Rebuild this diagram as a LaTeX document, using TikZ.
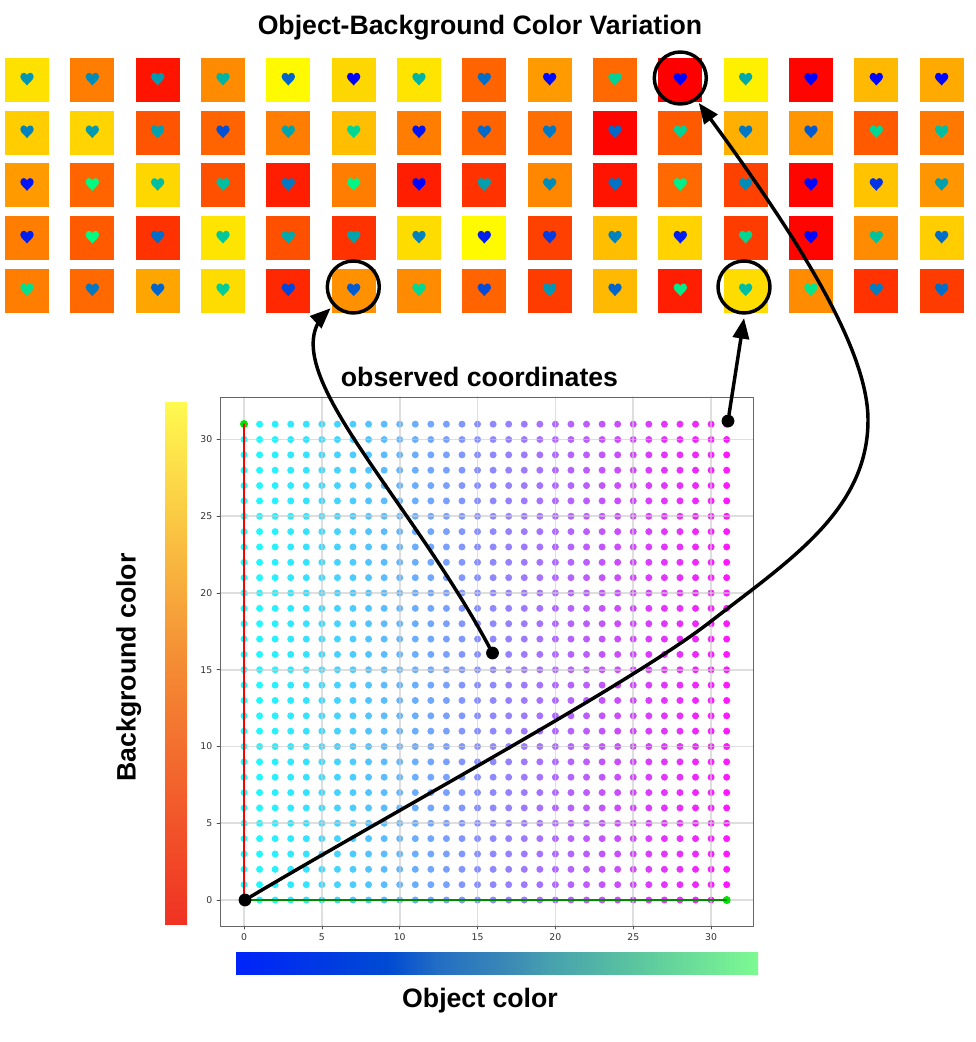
\documentclass[tikz,border=0pt]{standalone}
\usepackage{fontspec}
\setmainfont{Liberation Sans}
\newfontfamily\tickfont{DejaVu Sans}
\usetikzlibrary{arrows}
\pgfdeclarehorizontalshading{objramp}{100bp}{rgb(0bp)=(0,.137,.98);rgb(25bp)=(0,.137,.98);rgb(39.6bp)=(0,.294,.824);rgb(44.4bp)=(.137,.431,.765);rgb(51.6bp)=(.235,.549,.706);rgb(54.9bp)=(.275,.627,.686);rgb(62.8bp)=(.353,.765,.627);rgb(75bp)=(.49,.98,.57);rgb(100bp)=(.49,.98,.57)}
\pgfdeclareverticalshading{bgramp}{100bp}{rgb(0bp)=(.94,.196,.137);rgb(25bp)=(.94,.196,.137);rgb(50bp)=(.957,.549,.204);rgb(75bp)=(1,.98,.314);rgb(100bp)=(1,.98,.314)}
\tikzset{
  tile/.style={inner sep=0pt,minimum size=33pt},
  ring/.style={circle,draw=black,line width=2.6pt,inner sep=0pt,minimum size=39pt,outer sep=4pt},
  blob/.style={circle,fill=black,inner sep=0pt,minimum size=9.6pt},
  heart/.pic={\path[pic actions] (0,6.5) .. controls (-2,3.5) and (-6.7,1) .. (-6.7,-2.5)
    .. controls (-6.7,-5) and (-4.6,-6.2) .. (-3.3,-6.2) .. controls (-1.8,-6.2) and (-.6,-5.2) .. (0,-4)
    .. controls (.6,-5.2) and (1.8,-6.2) .. (3.3,-6.2) .. controls (4.6,-6.2) and (6.7,-5) .. (6.7,-2.5)
    .. controls (6.7,1) and (2,3.5) .. (0,6.5) -- cycle;},
  tick/.style={font=\tickfont\fontsize{7pt}{8pt}\selectfont,text=black!80,inner sep=0pt},
  head/.style={font=\bfseries\fontsize{20pt}{24pt}\selectfont,inner sep=0pt,anchor=base}
}
\begin{document}
\begin{tikzpicture}[line cap=round,line join=round,>=triangle 45,x=0.75pt,y=-0.75pt]
\useasboundingbox (0,0) rectangle (975,1042);
% tiles: background green / object green
\foreach \rowlist [count=\r from 0] in {
  {225/150,125/140,20/155,140/180,250/100,215/0,228/180,100/110,155/10,105/210,0/0,240/170,5/0,185/5,170/5},
  {205/130,212/155,85/160,100/80,125/165,190/215,125/20,100/105,110/120,5/105,90/210,175/120,150/90,90/215,120/190},
  {155/20,100/250,215/190,80/190,30/120,125/245,30/0,50/160,135/140,20/115,105/240,65/140,5/5,195/50,150/160},
  {125/30,90/250,50/110,228/200,80/170,50/165,220/130,250/30,65/60,190/130,210/30,60/215,5/5,140/195,205/110},
  {125/225,105/120,165/100,220/205,40/70,145/90,140/215,100/75,60/150,185/100,30/235,220/190,140/230,50/125,60/110}}
{
  \foreach \bg/\obj [count=\c from 0] in \rowlist {
    \pgfmathsetmacro\tx{27+65.33*\c}
    \pgfmathsetmacro\ty{80+52.67*\r}
    \pgfmathtruncatemacro\bl{255-\obj/2}
    \node[tile,fill={rgb,255:red,255;green,\bg;blue,0}] (tile\c-\r) at (\tx,\ty) {};
    \pic[fill={rgb,255:red,0;green,\obj;blue,\bl}] at (\tx,\ty-1) {heart};
  }
}
\node[head] (title) at (480,34.3) {Object-Background Color Variation};
\node[head] (observed) at (479.5,386.5) {observed coordinates};
\node[head] (objlabel) at (480,1007.7) {Object color};
\node[head,rotate=90] (bglabel) at (135.5,667.5) {Background color};
% colour bars
\node[inner sep=0pt,minimum width=16.5pt,minimum height=391.5pt,shading=bgramp] (bgbar) at (176,663) {};
\node[inner sep=0pt,minimum width=391.5pt,minimum height=16pt,shading=objramp] (objbar) at (497,963.5) {};
% scatter
\foreach \i in {0,...,31}{
  \pgfmathtruncatemacro\rd{255*\i/31}
  \pgfmathtruncatemacro\gr{255-\rd}
  \foreach \j in {0,...,31}{
    \fill[fill={rgb,255:red,\rd;green,\gr;blue,255},opacity=.9] (244+15.57*\i,900-15.35*\j) circle [radius=3.5];
  }
}
% grid and frame
\foreach \k in {0,5,...,30}{
  \draw[black!20,line width=1.3pt,opacity=.65] (244+15.57*\k,397) -- (244+15.57*\k,926);
  \draw[black!20,line width=1.3pt,opacity=.65] (220,900-15.35*\k) -- (753,900-15.35*\k);
  \draw[black!70,line width=.5pt] (244+15.57*\k,926) -- (244+15.57*\k,929);
  \draw[black!70,line width=.5pt] (220,900-15.35*\k) -- (217,900-15.35*\k);
  \node[tick] (xt\k) at (244+15.57*\k,937.5) {\k};
  \node[tick,anchor=east] (yt\k) at (212.5,900-15.35*\k) {\k};
}
\draw[black!60,line width=.75pt] (220,397) rectangle (753,926);
\coordinate (origin) at (244,900);
\coordinate (topleft) at (244,424);
\coordinate (botright) at (726.7,900);
\fill[green!90!black] (topleft) circle [radius=4];
\fill[green!90!black] (botright) circle [radius=4];
\draw[red,line width=1.3pt] (origin) -- (topleft);
\draw[green!55!black,line width=1.3pt] (origin) -- (botright);
% picked tiles
\node[ring] (ringA) at (353.3,287) {};
\node[ring] (ringB) at (744,287) {};
\node[ring] (ringC) at (680.3,78) {};
\node[blob] (ptA) at (492.5,653) {};
\node[blob] (ptB) at (728,421) {};
\node[blob] (ptC) at (245,900) {};
\coordinate (bendA) at (710,622);
\coordinate (bendB) at (868,420);
\draw[->,line width=2.6pt] (ptA) .. controls (405,490) and (270,365) .. (ringA);
\draw[->,line width=2.6pt] (ptB) -- (ringB.south);
\draw[->,line width=2.6pt] (ptC) .. controls (400,808) and (630,684) .. (bendA)
  .. controls (790,560) and (868,510) .. (bendB)
  .. controls (868,350) and (800,240) .. (ringC);
\end{tikzpicture}
\end{document}
